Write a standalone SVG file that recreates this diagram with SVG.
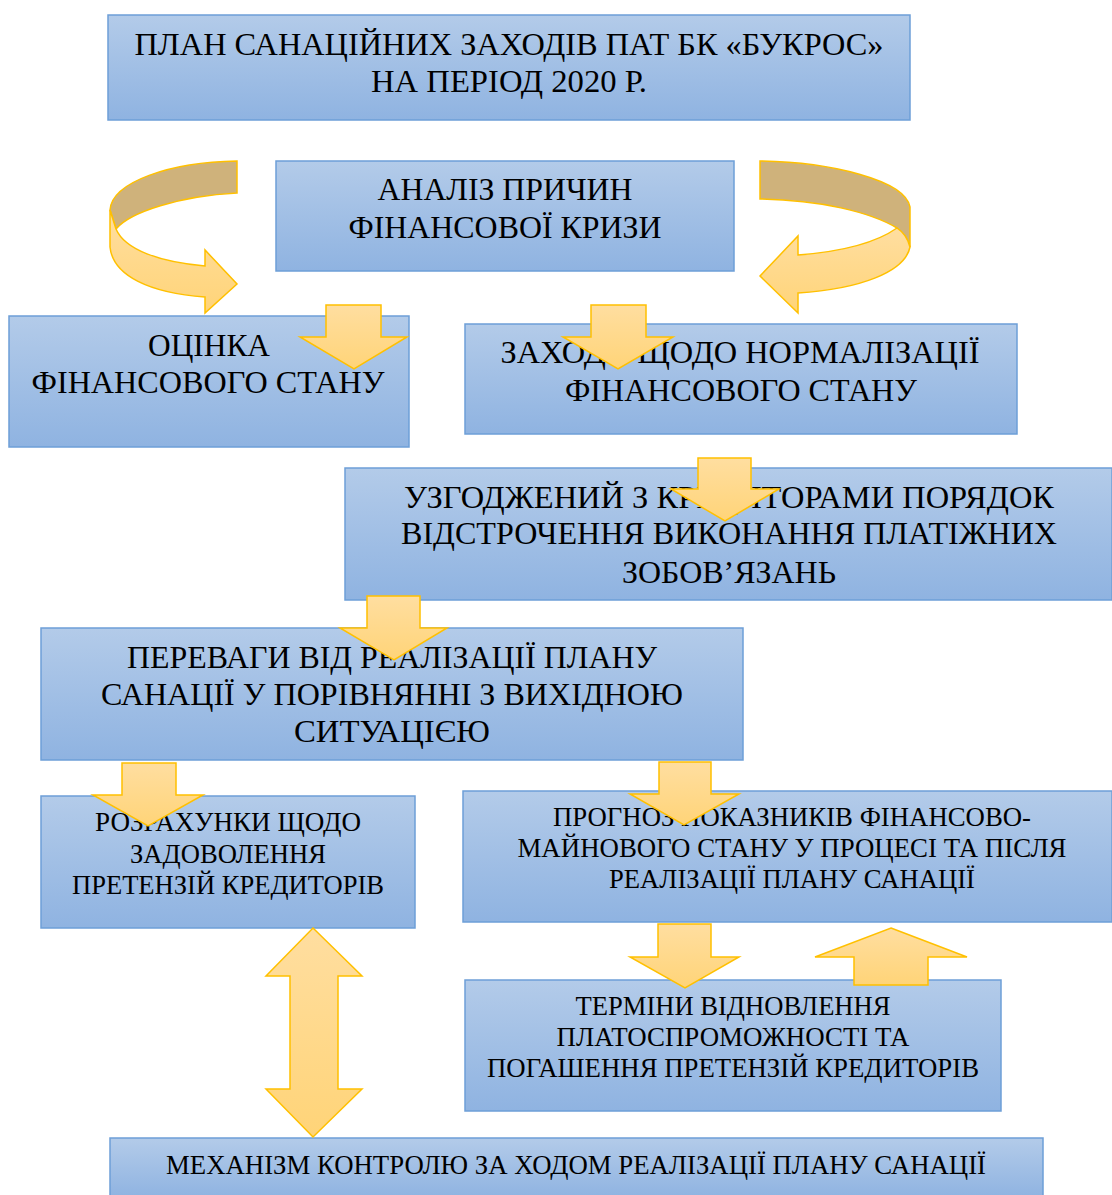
<svg xmlns="http://www.w3.org/2000/svg" width="1112" height="1195" viewBox="0 0 1112 1195">
<defs>
<linearGradient id="gb" x1="0" y1="0" x2="0" y2="1">
<stop offset="0" stop-color="#b3cbe9"/>
<stop offset="1" stop-color="#8fb3e1"/>
</linearGradient>
<linearGradient id="ga" x1="0" y1="0" x2="0" y2="1">
<stop offset="0" stop-color="#ffdea0"/>
<stop offset="1" stop-color="#ffd478"/>
</linearGradient>
<style>
.box{fill:url(#gb);stroke:#6d9fd7;stroke-width:1.5}
.t{font-family:"Liberation Serif","Times New Roman",serif;fill:#000;text-anchor:middle}
.l{font-size:32px}
.s{font-size:26.5px}
.ar{fill:url(#ga);stroke:#ffc000;stroke-width:1.5;stroke-linejoin:miter}
.back{fill:#cfb27b;stroke:#ffc000;stroke-width:1.5}
</style>
</defs>
<rect width="1112" height="1195" fill="#fff"/>
<g id="n1">
<rect class="box" x="108" y="15" width="802" height="105"/>
<text class="t l" x="509" y="55" textLength="749" lengthAdjust="spacingAndGlyphs">ПЛАН САНАЦІЙНИХ ЗАХОДІВ ПАТ БК «БУКРОС»</text>
<text class="t l" x="509" y="92" textLength="276" lengthAdjust="spacingAndGlyphs">НА ПЕРІОД 2020 Р.</text>
</g>
<g id="n2">
<rect class="box" x="276" y="161" width="458" height="110"/>
<text class="t l" x="505" y="200" textLength="255" lengthAdjust="spacingAndGlyphs">АНАЛІЗ ПРИЧИН</text>
<text class="t l" x="505" y="238" textLength="313" lengthAdjust="spacingAndGlyphs">ФІНАНСОВОЇ КРИЗИ</text>
</g>
<g id="n3">
<rect class="box" x="9" y="316" width="400" height="131"/>
<text class="t l" x="209" y="356" textLength="122" lengthAdjust="spacingAndGlyphs">ОЦІНКА</text>
<text class="t l" x="208" y="393" textLength="353" lengthAdjust="spacingAndGlyphs">ФІНАНСОВОГО СТАНУ</text>
</g>
<g id="n4">
<rect class="box" x="465" y="324" width="552" height="110"/>
<text class="t l" x="740" y="363" textLength="479" lengthAdjust="spacingAndGlyphs">ЗАХОДИ ЩОДО НОРМАЛІЗАЦІЇ</text>
<text class="t l" x="741" y="401" textLength="352" lengthAdjust="spacingAndGlyphs">ФІНАНСОВОГО СТАНУ</text>
</g>
<g id="n5">
<rect class="box" x="345" y="468" width="767" height="132"/>
<text class="t l" x="729" y="508" textLength="650" lengthAdjust="spacingAndGlyphs">УЗГОДЖЕНИЙ З КРЕДИТОРАМИ ПОРЯДОК</text>
<text class="t l" x="729" y="544" textLength="656" lengthAdjust="spacingAndGlyphs">ВІДСТРОЧЕННЯ ВИКОНАННЯ ПЛАТІЖНИХ</text>
<text class="t l" x="729" y="583" textLength="214" lengthAdjust="spacingAndGlyphs">ЗОБОВ’ЯЗАНЬ</text>
</g>
<g id="n6">
<rect class="box" x="41" y="628" width="702" height="132"/>
<text class="t l" x="392" y="668" textLength="530" lengthAdjust="spacingAndGlyphs">ПЕРЕВАГИ ВІД РЕАЛІЗАЦІЇ ПЛАНУ</text>
<text class="t l" x="392" y="705" textLength="582" lengthAdjust="spacingAndGlyphs">САНАЦІЇ У ПОРІВНЯННІ З ВИХІДНОЮ</text>
<text class="t l" x="392" y="742" textLength="196" lengthAdjust="spacingAndGlyphs">СИТУАЦІЄЮ</text>
</g>
<g id="n7">
<rect class="box" x="41" y="796" width="374" height="132"/>
<text class="t s" x="228" y="831" textLength="266" lengthAdjust="spacingAndGlyphs">РОЗРАХУНКИ ЩОДО</text>
<text class="t s" x="228" y="863" textLength="196" lengthAdjust="spacingAndGlyphs">ЗАДОВОЛЕННЯ</text>
<text class="t s" x="228" y="894" textLength="312" lengthAdjust="spacingAndGlyphs">ПРЕТЕНЗІЙ КРЕДИТОРІВ</text>
</g>
<g id="n8">
<rect class="box" x="463" y="791" width="649" height="131"/>
<text class="t s" x="792" y="826" textLength="478" lengthAdjust="spacingAndGlyphs">ПРОГНОЗ ПОКАЗНИКІВ ФІНАНСОВО-</text>
<text class="t s" x="792" y="857" textLength="549" lengthAdjust="spacingAndGlyphs">МАЙНОВОГО СТАНУ У ПРОЦЕСІ ТА ПІСЛЯ</text>
<text class="t s" x="792" y="888" textLength="366" lengthAdjust="spacingAndGlyphs">РЕАЛІЗАЦІЇ ПЛАНУ САНАЦІЇ</text>
</g>
<g id="n9">
<rect class="box" x="465" y="980" width="536" height="131"/>
<text class="t s" x="733" y="1015" textLength="315" lengthAdjust="spacingAndGlyphs">ТЕРМІНИ ВІДНОВЛЕННЯ</text>
<text class="t s" x="733" y="1046" textLength="353" lengthAdjust="spacingAndGlyphs">ПЛАТОСПРОМОЖНОСТІ ТА</text>
<text class="t s" x="733" y="1077" textLength="492" lengthAdjust="spacingAndGlyphs">ПОГАШЕННЯ ПРЕТЕНЗІЙ КРЕДИТОРІВ</text>
</g>
<g id="n10">
<rect class="box" x="110" y="1138" width="933" height="60"/>
<text class="t s" x="576" y="1174" textLength="820" lengthAdjust="spacingAndGlyphs">МЕХАНІЗМ КОНТРОЛЮ ЗА ХОДОМ РЕАЛІЗАЦІЇ ПЛАНУ САНАЦІЇ</text>
</g>
<g id="connectors">
<path class="back" d="M237,161 C170,162 112,182 110,210 L116,229 C130,212 180,196 237,193 Z"/>
<path class="ar" d="M110,210 L110,247 C113,276 150,293 205,297 L205,313 L237,284 L205,250 L205,266 C160,262 125,250 116,229 Z"/>
<path class="back" d="M760,161 C830,162 905,180 910,207 L910,247 C908,239 903,232 897,228 C870,212 820,200 760,199 Z"/>
<path class="ar" d="M897,228 C880,240 850,251 798,255 L798,236 L760,276 L798,313 L798,293 C860,289 905,272 910,247 C908,239 903,232 897,228 Z"/>
<polygon class="ar" points="326,305 381,305 381,337 407,337 354,369 300,337 326,337"/>
<polygon class="ar" points="591,305 646,305 646,337 673,337 618,369 563,337 591,337"/>
<polygon class="ar" points="698,458 751,458 751,489 779,489 725,521 671,489 698,489"/>
<polygon class="ar" points="367,596 420,596 420,628 447,628 394,660 340,628 367,628"/>
<polygon class="ar" points="122,763 176,763 176,795 203,795 148,826 93,795 122,795"/>
<polygon class="ar" points="659,762 711,762 711,794 739,794 684,825 630,794 659,794"/>
<polygon class="ar" points="658,924 711,924 711,957 739,957 685,988 630,957 658,957"/>
<polygon class="ar" points="891,928 967,957 928,957 928,985 854,985 854,957 815,957"/>
<polygon class="ar" points="313,928 362,976 338,976 338,1089 362,1089 313,1137 266,1089 290,1089 290,976 266,976"/>
</g>
</svg>
